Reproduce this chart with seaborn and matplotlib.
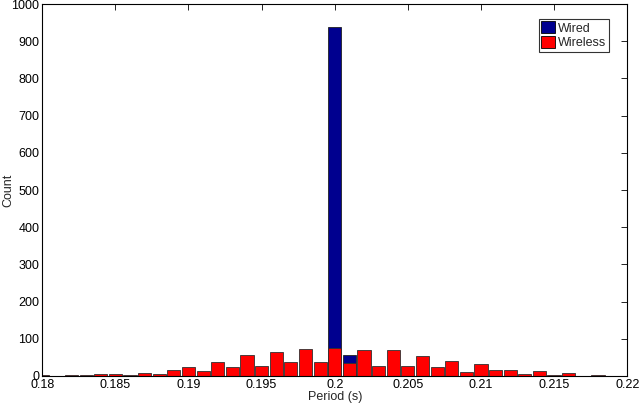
import numpy as np
import pandas as pd
import matplotlib
matplotlib.use('Agg')
import matplotlib.pyplot as plt
import seaborn as sns
from matplotlib.ticker import FormatStrFormatter
from matplotlib.patches import Patch

# bin centres (s) and counts
periods = [0.180, 0.181, 0.182, 0.183, 0.184, 0.185, 0.186, 0.187, 0.188, 0.189,
           0.190, 0.191, 0.192, 0.193, 0.194, 0.195, 0.196, 0.197, 0.198, 0.199,
           0.200, 0.201, 0.202, 0.203, 0.204, 0.205, 0.206, 0.207, 0.208, 0.209,
           0.210, 0.211, 0.212, 0.213, 0.214, 0.215, 0.216, 0.217, 0.218]
wired = [0, 0, 0, 0, 0, 0, 0, 0, 0, 0,
         0, 0, 0, 0, 0, 0, 0, 0, 0, 0,
         938, 57, 0, 0, 0, 0, 0, 0, 0, 0,
         0, 0, 0, 0, 0, 0, 0, 0, 0]
wireless = [3, 0, 2, 2, 6, 5, 4, 7, 5, 15,
            25, 13, 38, 25, 56, 27, 65, 38, 73, 38,
            75, 35, 71, 27, 71, 26, 54, 23, 40, 11,
            33, 15, 15, 6, 14, 2, 7, 0, 2]

df = pd.DataFrame({'period': periods, 'Wired': wired, 'Wireless': wireless})

sns.set_style('white')
plt.rcParams['font.family'] = ['Liberation Sans', 'DejaVu Sans']

fig = plt.figure(figsize=(6.4, 4.03), dpi=100)
ax = fig.add_axes([0.066, 0.067, 0.914, 0.923])

sns.histplot(data=df, x='period', weights='Wired', binwidth=0.001,
             binrange=(0.1795, 0.2185), shrink=0.9,
             color='#00008f', alpha=1, edgecolor='#202020', linewidth=0.6, ax=ax)
sns.histplot(data=df, x='period', weights='Wireless', binwidth=0.001,
             binrange=(0.1795, 0.2185), shrink=0.9,
             color='#ff0000', alpha=1, edgecolor='#303030', linewidth=0.6, ax=ax)

ax.set_xlim(0.18, 0.22)
ax.set_ylim(0, 1000)
ax.set_xticks(np.arange(0.18, 0.2201, 0.005))
ax.set_yticks(np.arange(0, 1001, 100))
ax.xaxis.set_major_formatter(FormatStrFormatter('%g'))
ax.tick_params(direction='in', length=4, width=0.6, top=True, right=True,
               labelsize=9, colors='black', pad=2)
for s in ax.spines.values():
    s.set_visible(True)
    s.set_color('black')
    s.set_linewidth(0.8)
ax.set_xlabel('Period (s)', fontsize=9, labelpad=0)
ax.set_ylabel('Count', fontsize=9, va='center')
ax.yaxis.set_label_coords(-0.058, 0.5)

handles = [Patch(facecolor='#00008f', edgecolor='black', linewidth=0.6),
           Patch(facecolor='#ff0000', edgecolor='black', linewidth=0.6)]
leg = ax.legend(handles, ['Wired', 'Wireless'], loc='upper right',
                bbox_to_anchor=(0.969, 0.96), fontsize=9, frameon=True,
                fancybox=False, edgecolor='black', handlelength=1.1,
                handleheight=1.1, handletextpad=0.25, borderpad=0.2,
                labelspacing=0.1, borderaxespad=0)
leg.get_frame().set_linewidth(0.8)

fig.savefig('out.png', dpi=100, facecolor='white')
